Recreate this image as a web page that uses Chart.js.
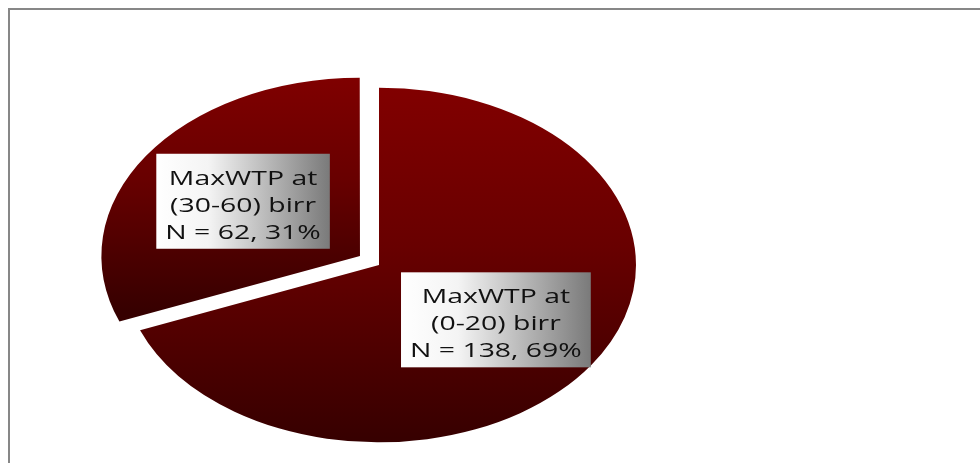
<!DOCTYPE html>
<html>
<head>
<meta charset="utf-8">
<title>MaxWTP</title>
<script src="https://cdn.jsdelivr.net/npm/chart.js@4.4.1/dist/chart.umd.min.js"></script>
<style>
  html, body { margin: 0; padding: 0; background: #fff; overflow: hidden; }
  #wrap { position: relative; width: 980px; height: 463px; }
  #frame {
    position: absolute; left: 8px; top: 8px; width: 1200px; height: 800px;
    border-left: 2px solid #878787; border-top: 2px solid #878787;
  }
  #pie { position: absolute; left: 0; top: 0; }
</style>
</head>
<body>
<div id="wrap">
  <div id="frame"></div>
  <canvas id="pie" width="980" height="463"></canvas>
</div>
<script>
// respondents by maximum willingness to pay
const categories = ['(0-20) birr', '(30-60) birr'];
const respondents = [138, 62];

const TILT = 0.69;          // vertical squash of the pie
const LABEL_POS = 0.55;     // label anchor, fraction of the radius
const TEXT_STRETCH = 1.42;  // horizontal stretch of label text

const total = respondents.reduce((a, b) => a + b, 0);

function arcGeometry(arc) {
    const p = arc.getProps(['x', 'y', 'startAngle', 'endAngle', 'outerRadius']);
    const mid = (p.startAngle + p.endAngle) / 2;
    const shift = (arc.options.offset || 0) / 4;
    return {
        ...p, mid,
        cx: p.x + Math.cos(mid) * shift,
        cy: p.y + Math.sin(mid) * shift
    };
}

// gradient from the top of each slice to its bottom
function sliceGradient(ctx, arc) {
    const g = arcGeometry(arc);
    const ys = [0, Math.sin(g.startAngle), Math.sin(g.endAngle)];
    [-Math.PI / 2, Math.PI / 2, 3 * Math.PI / 2].forEach(a => {
        if (a > g.startAngle && a < g.endAngle) ys.push(Math.sin(a));
    });
    const top = g.cy + Math.min(...ys) * g.outerRadius;
    const bottom = g.cy + Math.max(...ys) * g.outerRadius;
    const grad = ctx.createLinearGradient(0, top, 0, bottom);
    grad.addColorStop(0, '#810000');
    grad.addColorStop(0.45, '#680000');
    grad.addColorStop(1, '#360000');
    return grad;
}

const tiltPlugin = {
    id: 'tilt',
    beforeDatasetsDraw(chart) {
        const ctx = chart.ctx;
        const meta = chart.getDatasetMeta(0);
        meta.data.forEach(arc => { arc.options.backgroundColor = sliceGradient(ctx, arc); });
        const cy = meta.data[0].y;
        ctx.save();
        ctx.translate(0, cy);
        ctx.scale(1, TILT);
        ctx.translate(0, -cy);
    },
    afterDatasetsDraw(chart) {
        chart.ctx.restore();
    }
};

const labelPlugin = {
    id: 'sliceLabels',
    afterDraw(chart) {
        const ctx = chart.ctx;
        const meta = chart.getDatasetMeta(0);
        ctx.save();
        ctx.font = '20px "Open Sans"';
        ctx.textAlign = 'center';
        ctx.textBaseline = 'alphabetic';
        meta.data.forEach((arc, i) => {
            const g = arcGeometry(arc);
            const px = g.cx + Math.cos(g.mid) * g.outerRadius * LABEL_POS;
            const pyc = g.cy + Math.sin(g.mid) * g.outerRadius * LABEL_POS;
            const py = g.y + (pyc - g.y) * TILT;
            const pct = Math.round(respondents[i] / total * 100);
            const lines = ['MaxWTP at', categories[i], `N = ${respondents[i]}, ${pct}%`];
            const lineH = 27;
            const w = Math.max(...lines.map(l => ctx.measureText(l).width)) * TEXT_STRETCH + 18;
            const h = lines.length * lineH + 14;
            const bx = px - w / 2, by = py - h / 2;
            const bg = ctx.createLinearGradient(bx, 0, bx + w, 0);
            bg.addColorStop(0, '#ffffff');
            bg.addColorStop(0.3, '#f4f4f4');
            bg.addColorStop(1, '#7a7a7a');
            ctx.fillStyle = bg;
            ctx.fillRect(bx, by, w, h);
            ctx.fillStyle = '#111111';
            lines.forEach((l, k) => {
                ctx.save();
                ctx.translate(px, by + 31 + k * lineH);
                ctx.scale(TEXT_STRETCH, 1);
                ctx.fillText(l, 0, 0);
                ctx.restore();
            });
        });
        ctx.restore();
    }
};

new Chart(document.getElementById('pie'), {
    type: 'pie',
    data: {
        labels: categories,
        datasets: [{
            data: respondents,
            backgroundColor: ['#800000', '#800000'],
            borderWidth: 0,
            offset: [0, 92],
            radius: 257,
            clip: false
        }]
    },
    options: {
        responsive: false,
        animation: false,
        events: [],
        layout: { padding: { left: 0, right: 222, top: 67, bottom: 0 } },
        plugins: { legend: { display: false }, tooltip: { enabled: false } }
    },
    plugins: [tiltPlugin, labelPlugin]
});
</script>
</body>
</html>
